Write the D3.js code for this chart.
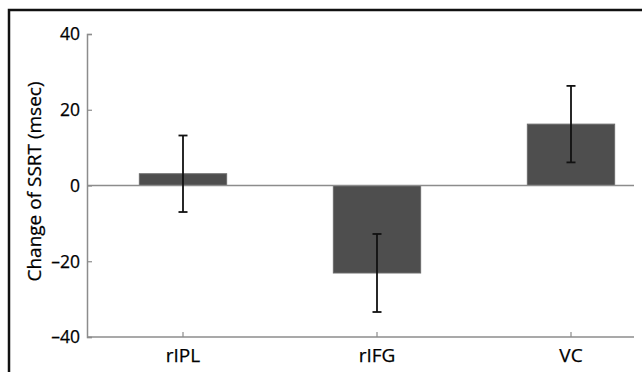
<!DOCTYPE html>
<html>
<head>
<meta charset="utf-8">
<script src="https://cdn.jsdelivr.net/npm/d3@7"></script>
<style>
  body { margin: 0; background: #fff; }
  svg { display: block; }
  text { font-family: "Open Sans", Lato, sans-serif; fill: #000; stroke: #000; stroke-width: 0.25px; }
</style>
</head>
<body>
<div id="chart"></div>
<script>
// data
const regions = ['rIPL', 'rIFG', 'VC'];
const ssrtChange = [3.1, -23.1, 16.2];
const ssrtError = [10.1, 10.3, 10.1];
const yTicks = [-40, -20, 0, 20, 40];

const width = 642, height = 372;

const svg = d3.select('#chart')
  .append('svg')
  .attr('width', width)
  .attr('height', height);

// outer frame (only top and left visible in the crop)
svg.append('path')
  .attr('d', `M9,${height} V10 H${width}`)
  .attr('fill', 'none')
  .attr('stroke', '#111')
  .attr('stroke-width', 2.5);

const y = d3.scaleLinear().domain([-40, 40]).range([337, 34]);
const x = d3.scaleBand()
  .domain(regions)
  .range([86, 668])
  .paddingInner(0.55)
  .paddingOuter(0.275);

const axisLeft = 87, axisRight = 634;
const axisColor = '#8c8c8c';

// bars
svg.selectAll('rect.bar')
  .data(regions)
  .enter()
  .append('rect')
  .attr('class', 'bar')
  .attr('x', d => x(d))
  .attr('width', x.bandwidth())
  .attr('y', (d, i) => y(Math.max(0, ssrtChange[i])))
  .attr('height', (d, i) => Math.abs(y(ssrtChange[i]) - y(0)))
  .attr('fill', '#4e4e4e')
  .attr('stroke', '#6a6a6a')
  .attr('stroke-width', 1);

// zero line
svg.append('line')
  .attr('x1', axisLeft).attr('x2', axisRight)
  .attr('y1', y(0)).attr('y2', y(0))
  .attr('stroke', axisColor)
  .attr('stroke-width', 1.5);

// error bars
const cx = d => x(d) + x.bandwidth() / 2;
const err = svg.selectAll('g.err')
  .data(regions)
  .enter()
  .append('g')
  .attr('class', 'err')
  .attr('stroke', '#111')
  .attr('stroke-width', 1.8);

err.append('line')
  .attr('x1', cx).attr('x2', cx)
  .attr('y1', (d, i) => y(ssrtChange[i] + ssrtError[i]))
  .attr('y2', (d, i) => y(ssrtChange[i] - ssrtError[i]));
[1, -1].forEach(s => {
  err.append('line')
    .attr('x1', d => cx(d) - 4.5).attr('x2', d => cx(d) + 4.5)
    .attr('y1', (d, i) => y(ssrtChange[i] + s * ssrtError[i]))
    .attr('y2', (d, i) => y(ssrtChange[i] + s * ssrtError[i]));
});

// y axis
const gy = svg.append('g')
  .attr('transform', `translate(${axisLeft},0)`)
  .call(d3.axisRight(y).tickValues(yTicks).tickSize(5).tickFormat(() => ''));
gy.select('.domain').attr('stroke', axisColor).attr('stroke-width', 1.5);
gy.selectAll('.tick line').attr('stroke', axisColor).attr('stroke-width', 1.2);

svg.selectAll('text.ytick')
  .data(yTicks)
  .enter()
  .append('text')
  .attr('class', 'ytick')
  .attr('x', 80)
  .attr('y', d => y(d))
  .attr('dy', '0.36em')
  .attr('text-anchor', 'end')
  .style('font-size', '17.5px')
  .text(d => d < 0 ? '\u2013' + Math.abs(d) : d);

// x axis (bottom)
svg.append('line')
  .attr('x1', axisLeft).attr('x2', axisRight)
  .attr('y1', y(-40)).attr('y2', y(-40))
  .attr('stroke', axisColor)
  .attr('stroke-width', 1.5);

svg.selectAll('line.xtick')
  .data(regions)
  .enter()
  .append('line')
  .attr('class', 'xtick')
  .attr('x1', cx).attr('x2', cx)
  .attr('y1', y(-40)).attr('y2', y(-40) - 5)
  .attr('stroke', axisColor)
  .attr('stroke-width', 1.2);

svg.selectAll('text.xlabel')
  .data(regions)
  .enter()
  .append('text')
  .attr('class', 'xlabel')
  .attr('x', cx)
  .attr('y', 362)
  .attr('text-anchor', 'middle')
  .style('font-size', '19px')
  .text(d => d);

// y axis title
svg.append('text')
  .attr('transform', `translate(41,${(y(40) + y(-40)) / 2 - 4}) rotate(-90)`)
  .attr('text-anchor', 'middle')
  .style('font-size', '19px')
  .text('Change of SSRT (msec)');
</script>
</body>
</html>
